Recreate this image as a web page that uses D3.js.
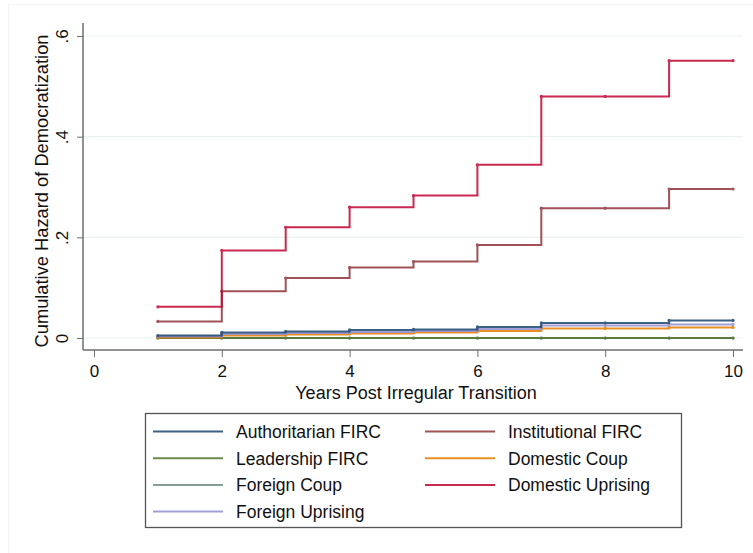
<!DOCTYPE html>
<html>
<head>
<meta charset="utf-8">
<script src="https://cdn.jsdelivr.net/npm/d3@7"></script>
<style>
  html, body { margin: 0; padding: 0; background: #fff; }
  svg { display: block; font-family: "Liberation Sans", Arial, Helvetica, sans-serif; }
</style>
</head>
<body>
<svg id="chart" width="753" height="553"></svg>
<script>
// Years after the transition at which the cumulative hazard is estimated
const years = [1, 2, 3, 4, 5, 6, 7, 8, 9, 10];

// Cumulative hazard of democratization by transition type
const authoritarianFIRC = [0.005, 0.011, 0.013, 0.016, 0.017, 0.022, 0.030, 0.030, 0.035, 0.035];
const institutionalFIRC = [0.033, 0.093, 0.119, 0.140, 0.152, 0.185, 0.258, 0.258, 0.296, 0.296];
const leadershipFIRC    = [0, 0, 0, 0, 0, 0, 0, 0, 0, 0];
const domesticCoup      = [0.001, 0.005, 0.007, 0.009, 0.011, 0.014, 0.019, 0.019, 0.021, 0.021];
const foreignCoup       = [0, 0, 0, 0, 0, 0, 0, 0, 0, 0];
const domesticUprising  = [0.062, 0.174, 0.220, 0.260, 0.283, 0.344, 0.480, 0.480, 0.551, 0.551];
const foreignUprising   = [0.003, 0.008, 0.010, 0.012, 0.014, 0.018, 0.025, 0.025, 0.027, 0.027];

const seriesNames = ["Authoritarian FIRC", "Institutional FIRC", "Leadership FIRC", "Domestic Coup",
                     "Foreign Coup", "Domestic Uprising", "Foreign Uprising"];
const seriesValues = [authoritarianFIRC, institutionalFIRC, leadershipFIRC, domesticCoup,
                      foreignCoup, domesticUprising, foreignUprising];
const seriesColors = ["#1a476f", "#90353b", "#55752f", "#e37e00", "#6e8e84", "#c10534", "#938dd2"];

const xTicks = [0, 2, 4, 6, 8, 10];
const yTicks = [0, 0.2, 0.4, 0.6];
const yTickLabels = ["0", ".2", ".4", ".6"];

const svg = d3.select("#chart");

// faint outer frame
svg.append("rect").attr("x", 8.5).attr("y", 4.5).attr("width", 760).attr("height", 560)
  .attr("fill", "none").attr("stroke", "#f3f3f3");

const x = d3.scaleLinear().domain([0, 10]).range([94, 733]);
const y = d3.scaleLinear().domain([0, 0.6]).range([338, 36]);
const plotLeft = 83, plotRight = 743, axisY = 350;

// gridlines
svg.append("g").selectAll("line").data(yTicks).join("line")
  .attr("x1", plotLeft).attr("x2", plotRight)
  .attr("y1", d => y(d)).attr("y2", d => y(d))
  .attr("stroke", "#eaf2f3").attr("stroke-width", 1.2);

// y axis with rotated tick labels
const yAxis = d3.axisLeft(y).tickValues(yTicks)
  .tickFormat((d, i) => yTickLabels[i]).tickSize(6);
const gy = svg.append("g").attr("transform", `translate(${plotLeft},0)`).call(yAxis);
gy.select(".domain").attr("d", `M-0,23V${axisY}`).attr("stroke", "#6e6e6e").attr("stroke-width", 1.5);
gy.selectAll(".tick line").attr("stroke", "#6e6e6e").attr("stroke-width", 1);
gy.selectAll(".tick text")
  .attr("font-size", 17).attr("fill", "#111").attr("font-family", "Liberation Sans, Arial, sans-serif")
  .attr("transform", "rotate(-90)")
  .attr("x", 0).attr("y", -15).attr("dy", 0)
  .attr("text-anchor", "middle");

// x axis
const xAxis = d3.axisBottom(x).tickValues(xTicks).tickFormat(d3.format("d")).tickSize(7).tickPadding(8);
const gx = svg.append("g").attr("transform", `translate(0,${axisY})`).call(xAxis);
gx.select(".domain").attr("d", `M${plotLeft},0H${plotRight}`).attr("stroke", "#6e6e6e").attr("stroke-width", 1.5);
gx.selectAll(".tick line").attr("stroke", "#6e6e6e").attr("stroke-width", 1);
gx.selectAll(".tick text").attr("font-size", 17).attr("fill", "#111")
  .attr("font-family", "Liberation Sans, Arial, sans-serif");

// axis titles
svg.append("text").attr("x", 416).attr("y", 399).attr("text-anchor", "middle")
  .attr("font-size", 18).attr("fill", "#111").text("Years Post Irregular Transition");
svg.append("text").attr("transform", "translate(48,191) rotate(-90)").attr("text-anchor", "middle")
  .attr("font-size", 18.3).attr("fill", "#111").text("Cumulative Hazard of Democratization");

// step lines
const line = d3.line().x(d => x(d.t)).y(d => y(d.v)).curve(d3.curveStepAfter);
const drawOrder = [4, 2, 3, 6, 0, 1, 5];
drawOrder.forEach(i => {
  const pts = years.map((t, j) => ({ t, v: seriesValues[i][j] }));
  const g = svg.append("g").attr("opacity", 0.85);
  g.append("path").datum(pts).attr("d", line)
    .attr("fill", "none").attr("stroke", seriesColors[i]).attr("stroke-width", 2);
  g.selectAll("circle").data(pts).join("circle")
    .attr("cx", d => x(d.t)).attr("cy", d => y(d.v)).attr("r", 1.6)
    .attr("fill", seriesColors[i]);
});

// legend
const legend = svg.append("g");
legend.append("rect").attr("x", 145.5).attr("y", 413.5).attr("width", 536).attr("height", 114)
  .attr("fill", "#fff").attr("stroke", "#555").attr("stroke-width", 1.3);
seriesNames.forEach((name, k) => {
  const col = k % 2, row = Math.floor(k / 2);
  const lx = col === 0 ? 153 : 425;
  const ly = 431.5 + row * 26.7;
  legend.append("line").attr("x1", lx).attr("x2", lx + 70).attr("y1", ly).attr("y2", ly)
    .attr("stroke", seriesColors[k]).attr("stroke-width", 2).attr("opacity", 0.85);
  legend.append("text").attr("x", lx + 83).attr("y", ly + 6.5)
    .attr("font-size", 17.5).attr("fill", "#111").text(name);
});
</script>
</body>
</html>
